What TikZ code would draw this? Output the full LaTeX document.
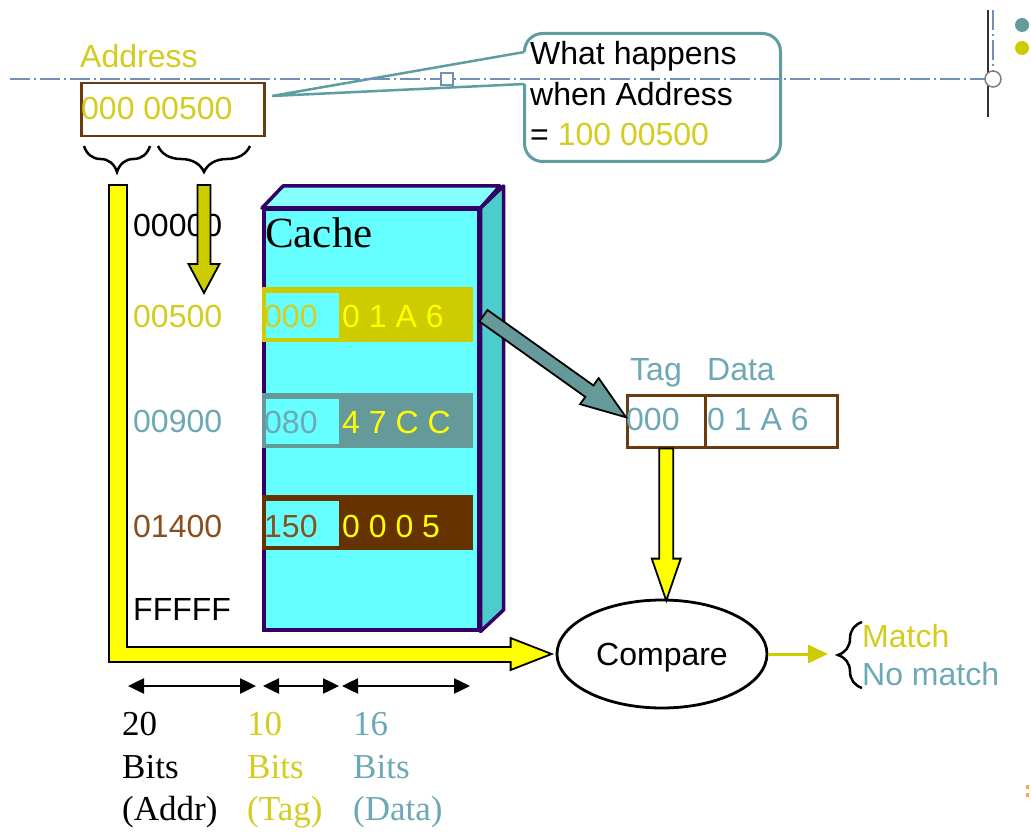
\documentclass[tikz,border=0pt]{standalone}
\usepackage{fontspec}
\setmainfont{Liberation Sans}
\newfontfamily\timesfont{Liberation Serif}
\usetikzlibrary{calc,decorations.pathreplacing,arrows.meta,shapes.geometric}

\definecolor{olivey}{HTML}{CCCC00}
\definecolor{texty}{HTML}{D4CC1E}
\definecolor{brighty}{HTML}{FFFF00}
\definecolor{tealfill}{HTML}{669999}
\definecolor{tealtext}{HTML}{6CA8B6}
\definecolor{brownfill}{HTML}{663300}
\definecolor{brownline}{HTML}{6B3A0F}
\definecolor{browntext}{HTML}{8A4F1E}
\definecolor{cachefront}{HTML}{66FFFF}
\definecolor{cachetop}{HTML}{88FFFF}
\definecolor{cacheside}{HTML}{4CCCCC}
\definecolor{cacheline}{HTML}{330066}
\definecolor{calloutline}{HTML}{5F9EA0}
\definecolor{guide}{HTML}{7090B8}

% block arrow: fill, tail, tip, shaft half width, head half width, head length
\newcommand\blockarrow[6]{%
  \coordinate (batmp) at ($(#3)!#6!(#2)$);
  \filldraw[fill=#1, draw=black, line width=1.8pt, line join=miter]
    ($(#2)!#4!90:(#3)$) -- ($(batmp)!#4!90:(#3)$) -- ($(batmp)!#5!90:(#3)$)
    -- (#3) -- ($(batmp)!#5!-90:(#3)$) -- ($(batmp)!#4!-90:(#3)$)
    -- ($(#2)!#4!-90:(#3)$) -- cycle;
}

\tikzset{
  sans/.style={font=\fontsize{32}{36}\selectfont, inner sep=0pt, anchor=base west},
  serifs/.style={font=\timesfont\fontsize{35}{40}\selectfont, inner sep=0pt, anchor=base west},
  boxed/.style={draw=brownline, line width=2.5pt, anchor=north west, inner sep=0pt},
  band/.style={anchor=north west, inner sep=0pt, minimum width=211pt, minimum height=55pt},
  tagcell/.style={anchor=north west, inner sep=0pt, fill=cachefront, minimum width=74pt, minimum height=46pt, line width=1.2pt},
  curly/.style={decorate, decoration={brace, amplitude=#1}, line width=2.5pt},
  dbl/.style={{Triangle[length=16pt,width=15pt]}-{Triangle[length=16pt,width=15pt]}, line width=2.5pt},
  guideline/.style={draw=guide, line width=1.5pt, dash pattern=on 20pt off 4pt on 2pt off 4pt},
}

\begin{document}
\begin{tikzpicture}[x=1pt, y=-1pt]
\useasboundingbox (0,0) rectangle (1031,834);
\fill[white] (0,0) rectangle (1031,834);

% ---------- address ----------
\node[sans, text=texty] (addrlbl) at (80,68) {Address};
\node[boxed, minimum width=183pt, minimum height=53pt] (addr) at (80,82) {};
\node[sans, text=texty] (addrval) at (81,120) {000 00500};

% braces under the address fields
\draw[curly=26pt] (150,146) -- (84,146) coordinate[midway] (br1);
\draw[curly=26pt] (250,146) -- (158,146) coordinate[midway] (br2);
\coordinate (br1tip) at ($(br1)+(0,27)$);
\coordinate (br2tip) at ($(br2)+(0,27)$);

% ---------- callout ----------
\node[draw=calloutline, line width=3pt, fill=white, rounded corners=18pt,
      anchor=north west, minimum width=256pt, minimum height=128pt] (call) at (523,32) {};
\coordinate (ptip) at (272,96);
\fill[white] (ptip) -- (call.north west |- 0,52) -- ([xshift=4pt]call.north west |- 0,52)
   -- ([xshift=4pt]call.north west |- 0,84) -- (call.north west |- 0,84) -- cycle;
\draw[calloutline, line width=2.5pt, line join=miter]
   ([xshift=1.5pt]call.north west |- 0,52) -- (ptip) -- ([xshift=1.5pt]call.north west |- 0,84);
\node[sans] (q1) at (530,65) {What happens};
\node[sans] (q2) at (530,106) {when Address};
\node[sans] (q3) at (530,146) {= \textcolor{texty}{100 00500}};

% ---------- address column ----------
\node[sans] (a0) at (133,237) {00000};
\node[sans, text=texty] (a1) at (133,327) {00500};
\node[sans, text=tealtext] (a2) at (133,432) {00900};
\node[sans, text=browntext] (a3) at (133,537) {01400};
\node[sans] (a4) at (133,620) {FFFFF};

% ---------- cache block ----------
\node[draw=cacheline, fill=cachefront, line width=3.5pt, anchor=north west,
      minimum width=215pt, minimum height=420pt, inner sep=0pt] (cache) at (262,208) {};
\filldraw[fill=cachetop, draw=cacheline, line width=3.5pt, line join=round]
  (cache.north west) -- ++(21,-22) -- ++(217,0) -- (cache.north east) -- cycle;
\filldraw[fill=cacheside, draw=cacheline, line width=3.5pt, line join=round]
  (cache.north east) -- ++(23,-22) -- ++(0,424) -- (cache.south east) -- cycle;
\node[sans, font=\timesfont\fontsize{43}{48}\selectfont] (cachelbl) at (265,248) {Cache};

% rows
\node[band, fill=olivey] (row1) at (262,287) {};
\node[tagcell, draw=olivey] (tag1) at (265,292) {};
\node[sans, text=texty] at (264,327) {000};
\node[sans, text=brighty] at (342,327) {0 1 A 6};

\node[band, fill=tealfill] (row2) at (262,393) {};
\node[tagcell, draw=tealfill] (tag2) at (265,398) {};
\node[sans, text=tealtext] at (264,433) {080};
\node[sans, text=brighty] at (342,433) {4 7 C C};

\node[band, fill=brownfill] (row3) at (262,495) {};
\node[tagcell, draw=brownfill] (tag3) at (265,500) {};
\node[sans, text=browntext] at (264,537) {150};
\node[sans, text=brighty] at (342,537) {0 0 0 5};

% ---------- selected line ----------
\node[sans, text=tealtext] (taglbl) at (630,380) {Tag};
\node[sans, text=tealtext] (datalbl) at (707,380) {Data};
\node[boxed, minimum width=78pt, minimum height=52pt] (tagbox) at (626,394) {};
\node[boxed, minimum width=132pt, minimum height=52pt] (databox) at (704,394) {};
\node[sans, text=tealtext] at (626,430) {000};
\node[sans, text=tealtext] at (707,430) {0 1 A 6};

% ---------- compare ----------
\node[ellipse, draw, line width=2.8pt, minimum width=210pt, minimum height=108pt,
      text depth=0pt, font=\fontsize{32}{36}\selectfont] (cmp) at (662,654) {Compare};
\coordinate (res) at (828,654);
\draw[olivey, line width=3pt, -{Triangle[length=20pt,width=18pt]}] (cmp.east) -- (res);
\draw[curly=24pt] (862,688) -- (862,622);
\node[sans, text=texty] (match) at (862,647) {Match};
\node[sans, text=tealtext] (nomatch) at (862,685) {No match};

% ---------- block arrows ----------
\blockarrow{olivey}{$(br2tip)+(0,12)$}{$(br2tip)+(0,120)$}{6.5pt}{15.5pt}{29pt}
\coordinate (tt) at ($(row1.east)+(10,1)$);
\coordinate (th) at ($(tagbox.west)+(0,-4)$);
\blockarrow{tealfill}{tt}{th}{7pt}{16pt}{45pt}
\blockarrow{brighty}{tagbox.south}{$(tagbox.south |- cmp.north)+(0,2)$}{7pt}{14.5pt}{42pt}

% address path into the comparator
\coordinate (lt) at ($(br1tip)+(1,12)$);
\coordinate (lh) at ($(cmp.west)+(-4,0)$);
\filldraw[fill=brighty, draw=black, line width=1.8pt, line join=miter]
  ($(lt)+(-9,0)$) -- ($(lt)+(9,0)$) -- ($(lt |- lh)+(9,-7)$) -- ($(lh)+(-41,-7)$)
  -- ($(lh)+(-41,-16)$) -- (lh) -- ($(lh)+(-41,16)$) -- ($(lh)+(-41,8)$)
  -- ($(lt |- lh)+(-9,8)$) -- cycle;

% ---------- widths ----------
\coordinate (w0) at (128,686);
\coordinate (w1) at (256,686);
\coordinate (w2) at (263,686);
\coordinate (w3) at (339,686);
\coordinate (w4) at (342,686);
\coordinate (w5) at (470,686);
\draw[dbl] (w0) -- (w1);
\draw[dbl] (w2) -- (w3);
\draw[dbl] (w4) -- (w5);
\node[serifs] (n20) at (122,735) {20};
\node[serifs] at (122,778) {Bits};
\node[serifs] at (122,820) {(Addr)};
\node[serifs, text=texty] (n10) at (247,735) {10};
\node[serifs, text=texty] at (247,778) {Bits};
\node[serifs, text=texty] at (247,820) {(Tag)};
\node[serifs, text=tealtext] (n16) at (353,735) {16};
\node[serifs, text=tealtext] at (353,778) {Bits};
\node[serifs, text=tealtext] at (353,820) {(Data)};

% ---------- guides ----------
\draw[black!80, line width=2pt] (988,10) -- (988,117);
\draw[guideline] (993,10) -- (993,71);
\draw[guideline] (10,79) -- (985,79);
\filldraw[fill=white, draw=black!50, line width=1.5pt] (993,79) circle (8pt);
\filldraw[fill=white, draw=guide, line width=1.5pt] (441,73) rectangle (453,85);
\fill[tealfill] (1022,25) circle (7pt);
\fill[olivey] (1022,48) circle (7pt);
\fill[orange!70] (1026,785) rectangle (1029,789);
\fill[orange!70] (1026,793) rectangle (1029,797);
\end{tikzpicture}
\end{document}
